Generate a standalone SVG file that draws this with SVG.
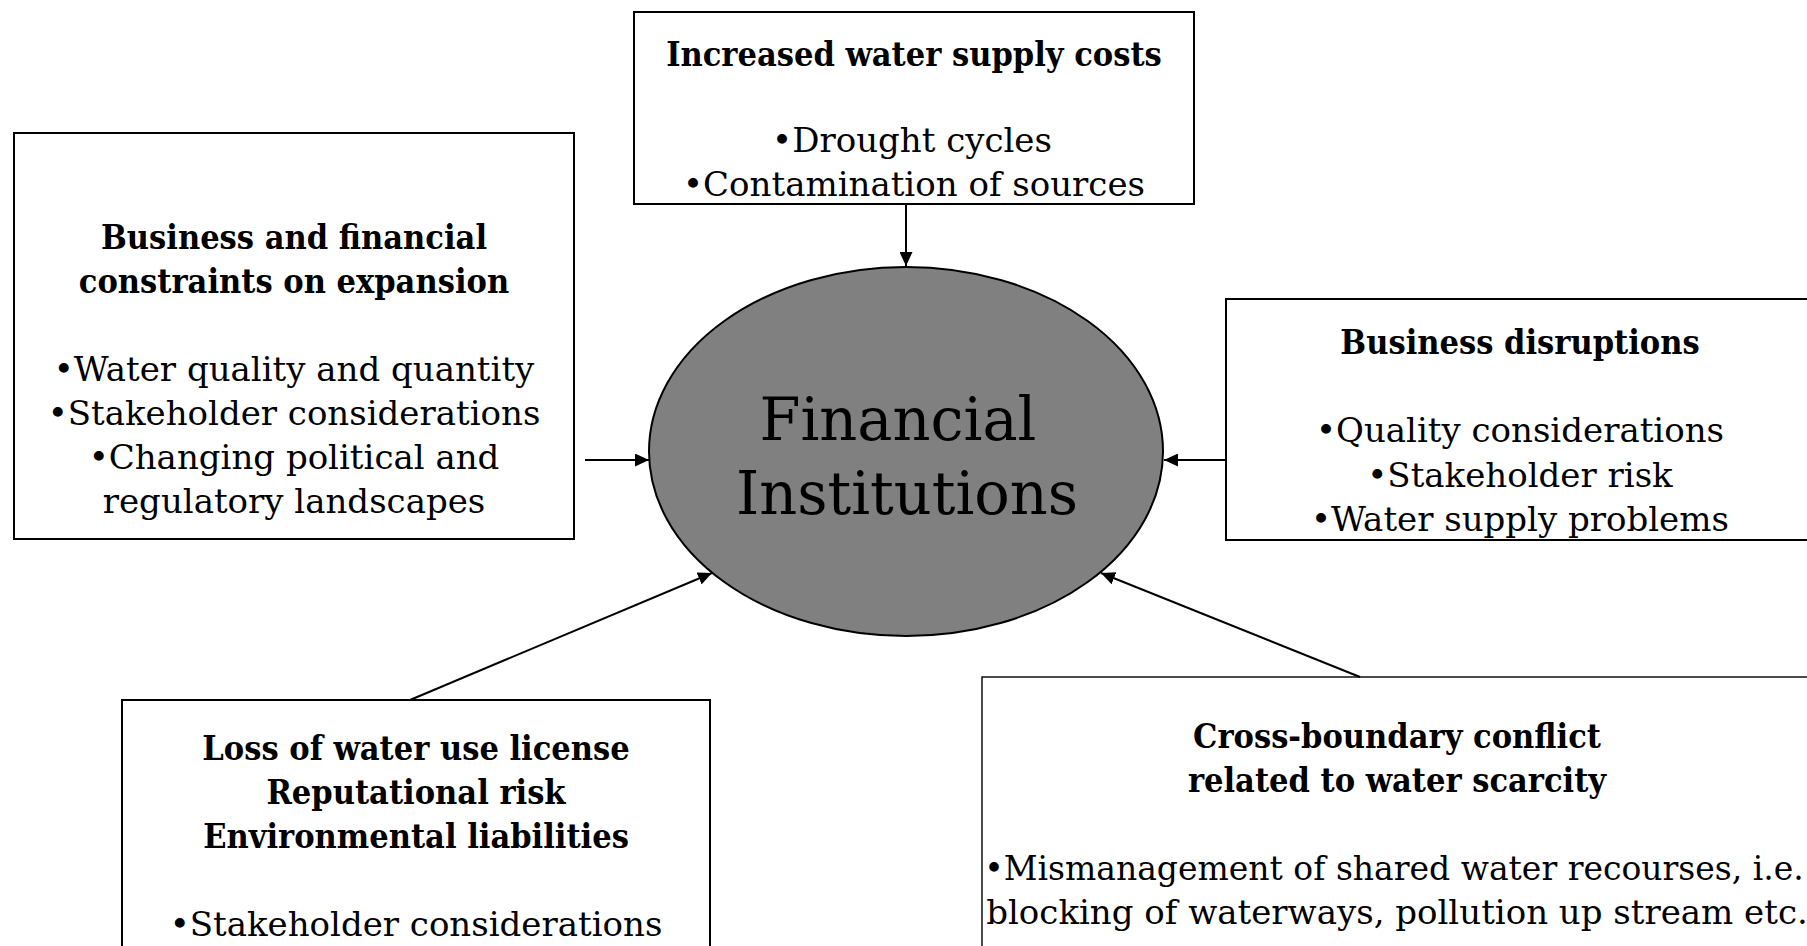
<svg xmlns="http://www.w3.org/2000/svg" width="1807" height="946" viewBox="0 0 1807 946">
<style>
.box{fill:#fff;stroke:#000;stroke-width:2}
.t{font-family:"DejaVu Serif","Liberation Serif",serif;font-size:34px;fill:#000;text-anchor:middle}
.b{font-weight:bold;font-stretch:condensed}
.big{font-size:59px}
.con{stroke:#000;stroke-width:2;fill:none;marker-end:url(#ah)}
</style>
<defs>
<marker id="ah" markerUnits="userSpaceOnUse" markerWidth="15" markerHeight="13" refX="14" refY="6.5" orient="auto">
<path d="M0,0 L14,6.5 L0,13 z" fill="#000"/>
</marker>
</defs>
<rect width="1807" height="946" fill="#fff"/>
<g id="center">
<ellipse cx="906" cy="451.5" rx="257" ry="184.5" fill="#808080" stroke="#000" stroke-width="2"/>
<text class="t big" x="898" y="440">Financial</text>
<text class="t big" x="907" y="514">Institutions</text>
</g>
<g id="top">
<rect class="box" x="634" y="12" width="560" height="192"/>
<text class="t b" x="914" y="66">Increased water supply costs</text>
<text class="t" x="912" y="152">•Drought cycles</text>
<text class="t" x="914" y="196">•Contamination of sources</text>
</g>
<g id="left">
<rect class="box" x="14" y="133" width="560" height="406"/>
<text class="t b" x="294" y="249">Business and financial</text>
<text class="t b" x="294" y="293">constraints on expansion</text>
<text class="t" x="294" y="381">•Water quality and quantity</text>
<text class="t" x="294" y="425">•Stakeholder considerations</text>
<text class="t" x="294" y="469">•Changing political and</text>
<text class="t" x="294" y="513">regulatory landscapes</text>
</g>
<g id="right">
<rect class="box" x="1226" y="299" width="590" height="241"/>
<text class="t b" x="1520" y="354">Business disruptions</text>
<text class="t" x="1520" y="442">•Quality considerations</text>
<text class="t" x="1520" y="487">•Stakeholder risk</text>
<text class="t" x="1520" y="531">•Water supply problems</text>
</g>
<g id="bottomleft">
<rect class="box" x="122" y="700" width="588" height="260"/>
<text class="t b" x="416" y="760">Loss of water use license</text>
<text class="t b" x="416" y="804">Reputational risk</text>
<text class="t b" x="416" y="848">Environmental liabilities</text>
<text class="t" x="416" y="936">•Stakeholder considerations</text>
</g>
<g id="bottomright">
<rect class="box" x="982" y="677" width="832" height="290" style="stroke-width:1.4"/>
<text class="t b" x="1397" y="748">Cross-boundary conflict</text>
<text class="t b" x="1397" y="792">related to water scarcity</text>
<text class="t" x="1394" y="880" style="font-size:33px">•Mismanagement of shared water recourses, i.e.</text>
<text class="t" x="1397" y="924">blocking of waterways, pollution up stream etc.</text>
</g>
<g id="connectors">
<line class="con" x1="906" y1="204" x2="906" y2="266"/>
<line class="con" x1="585" y1="460" x2="649" y2="460"/>
<line class="con" x1="1226" y1="460" x2="1164" y2="460"/>
<line class="con" x1="410" y1="700" x2="712" y2="573"/>
<line class="con" x1="1360" y1="677" x2="1101" y2="573"/>
</g>
</svg>
